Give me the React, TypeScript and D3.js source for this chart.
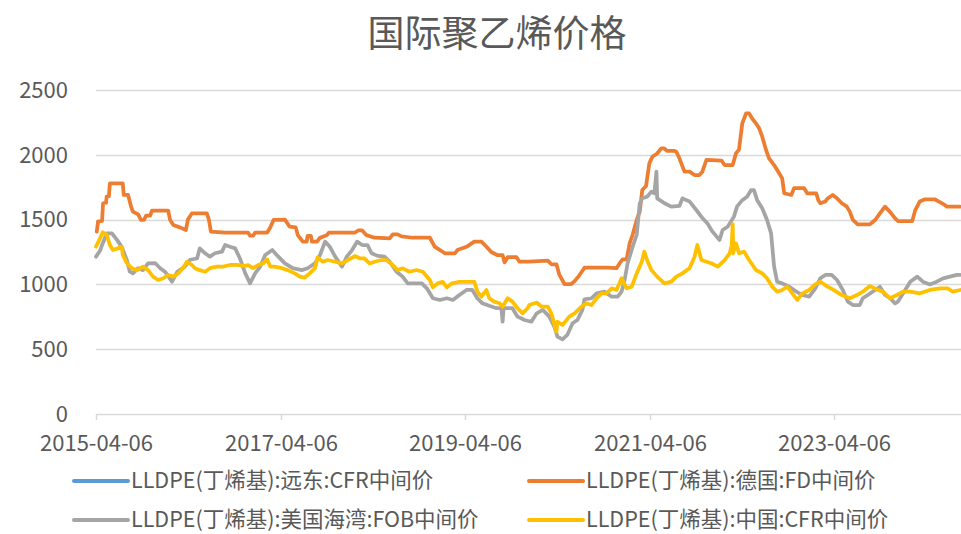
import { useRef, useEffect } from "react";
import * as d3 from "d3";

const title = "国际聚乙烯价格";
const yTicks = [0, 500, 1000, 1500, 2000, 2500];
const xTickLabels = ["2015-04-06", "2017-04-06", "2019-04-06", "2021-04-06", "2023-04-06"];
const startDate = "2015-04-06";
const endDate = "2024-08-21";

const seriesNames = [
  "LLDPE(丁烯基):远东:CFR中间价",
  "LLDPE(丁烯基):德国:FD中间价",
  "LLDPE(丁烯基):美国海湾:FOB中间价",
  "LLDPE(丁烯基):中国:CFR中间价",
];
const seriesColors = ["#5B9BD5", "#ED7D31", "#A5A5A5", "#FFC000"];

// 远东 CFR: no visible line in the picture
const farEast: [string, number][] = [];

const germany: [string, number][] = [
  ["2015-04-09", 1407], ["2015-04-14", 1484], ["2015-04-30", 1490], ["2015-05-04", 1626],
  ["2015-05-16", 1630], ["2015-05-18", 1677], ["2015-05-27", 1680], ["2015-05-31", 1780],
  ["2015-07-21", 1780], ["2015-07-25", 1690], ["2015-08-11", 1690], ["2015-08-23", 1600],
  ["2015-08-30", 1561], ["2015-09-20", 1540], ["2015-10-01", 1497], ["2015-10-13", 1497],
  ["2015-10-21", 1530], ["2015-11-06", 1530], ["2015-11-14", 1570], ["2016-01-17", 1570],
  ["2016-01-24", 1500], ["2016-02-06", 1458], ["2016-03-03", 1440], ["2016-03-27", 1420],
  ["2016-04-04", 1500], ["2016-04-20", 1549], ["2016-06-18", 1549], ["2016-06-26", 1500],
  ["2016-07-04", 1407], ["2016-08-29", 1400], ["2016-10-27", 1400], ["2016-11-28", 1400],
  ["2016-12-06", 1376], ["2016-12-18", 1376], ["2016-12-26", 1400], ["2017-02-12", 1400],
  ["2017-02-24", 1440], ["2017-03-09", 1497], ["2017-04-23", 1500], ["2017-05-12", 1445],
  ["2017-06-05", 1440], ["2017-06-13", 1380], ["2017-07-03", 1330], ["2017-07-18", 1330],
  ["2017-07-22", 1375], ["2017-08-04", 1375], ["2017-08-08", 1330], ["2017-08-28", 1330],
  ["2017-09-09", 1360], ["2017-10-06", 1380], ["2017-10-14", 1400], ["2018-01-26", 1400],
  ["2018-02-07", 1416], ["2018-02-23", 1416], ["2018-03-12", 1380], ["2018-04-13", 1360],
  ["2018-06-12", 1355], ["2018-06-24", 1386], ["2018-07-13", 1386], ["2018-07-29", 1370],
  ["2018-09-11", 1360], ["2018-11-18", 1360], ["2018-12-07", 1291], ["2019-01-16", 1240],
  ["2019-02-25", 1240], ["2019-03-07", 1265], ["2019-04-12", 1290], ["2019-05-13", 1330],
  ["2019-06-10", 1330], ["2019-06-30", 1290], ["2019-07-19", 1250], ["2019-08-13", 1225],
  ["2019-09-02", 1225], ["2019-09-10", 1170], ["2019-09-22", 1210], ["2019-10-27", 1210],
  ["2019-11-08", 1175], ["2019-12-17", 1175], ["2020-02-28", 1183], ["2020-03-13", 1155],
  ["2020-04-02", 1155], ["2020-04-14", 1073], ["2020-05-04", 1003], ["2020-05-31", 1003],
  ["2020-06-13", 1025], ["2020-07-02", 1070], ["2020-07-22", 1129], ["2020-10-21", 1129],
  ["2020-11-26", 1125], ["2020-12-08", 1162], ["2020-12-20", 1193], ["2021-01-05", 1193],
  ["2021-01-17", 1317], ["2021-01-29", 1385], ["2021-02-14", 1497], ["2021-02-26", 1563],
  ["2021-03-08", 1728], ["2021-03-23", 1760], ["2021-04-05", 1934], ["2021-04-17", 1985],
  ["2021-05-06", 2010], ["2021-05-22", 2050], ["2021-06-02", 2050], ["2021-06-15", 2030],
  ["2021-07-13", 2030], ["2021-07-21", 2024], ["2021-08-02", 1973], ["2021-08-22", 1870],
  ["2021-09-11", 1870], ["2021-10-01", 1844], ["2021-10-20", 1844], ["2021-11-01", 1870],
  ["2021-11-17", 1960], ["2022-01-16", 1955], ["2022-01-28", 1921], ["2022-03-01", 1921],
  ["2022-03-14", 2011], ["2022-03-26", 2040], ["2022-04-08", 2243], ["2022-04-23", 2320],
  ["2022-05-05", 2320], ["2022-05-17", 2280], ["2022-06-01", 2243], ["2022-06-14", 2204],
  ["2022-06-26", 2140], ["2022-07-11", 2037], ["2022-07-23", 1973], ["2022-08-12", 1921],
  ["2022-09-01", 1857], ["2022-09-13", 1818], ["2022-09-21", 1703], ["2022-10-19", 1690],
  ["2022-10-30", 1742], ["2022-12-09", 1742], ["2022-12-21", 1703], ["2023-01-26", 1703],
  ["2023-02-03", 1650], ["2023-02-11", 1626], ["2023-03-03", 1640], ["2023-03-13", 1665],
  ["2023-04-01", 1690], ["2023-04-18", 1665], ["2023-05-07", 1626], ["2023-05-27", 1600],
  ["2023-06-08", 1560], ["2023-06-20", 1497], ["2023-07-09", 1463], ["2023-08-26", 1463],
  ["2023-09-16", 1497], ["2023-10-05", 1548], ["2023-10-25", 1600], ["2023-11-14", 1560],
  ["2023-12-04", 1510], ["2023-12-15", 1489], ["2024-02-10", 1489], ["2024-02-22", 1574],
  ["2024-03-11", 1640], ["2024-03-31", 1657], ["2024-05-09", 1657], ["2024-06-07", 1626],
  ["2024-06-27", 1600], ["2024-08-17", 1600],
];

const usGulf: [string, number][] = [
  ["2015-04-06", 1214], ["2015-04-22", 1260], ["2015-04-30", 1304], ["2015-05-19", 1394],
  ["2015-06-08", 1394], ["2015-06-28", 1343], ["2015-07-17", 1290], ["2015-08-06", 1188],
  ["2015-08-18", 1098], ["2015-08-30", 1085], ["2015-09-20", 1125], ["2015-10-09", 1110],
  ["2015-10-29", 1162], ["2015-11-26", 1165], ["2015-12-16", 1125], ["2016-01-04", 1098],
  ["2016-02-01", 1021], ["2016-02-22", 1098], ["2016-03-23", 1137], ["2016-04-12", 1190],
  ["2016-05-10", 1200], ["2016-05-21", 1278], ["2016-06-11", 1240], ["2016-06-30", 1214],
  ["2016-07-20", 1240], ["2016-08-17", 1253], ["2016-08-29", 1304], ["2016-09-18", 1290],
  ["2016-10-08", 1278], ["2016-10-27", 1200], ["2016-11-17", 1085], ["2016-12-06", 1008],
  ["2016-12-26", 1085], ["2017-01-15", 1137], ["2017-02-04", 1227], ["2017-03-04", 1265],
  ["2017-03-25", 1220], ["2017-04-23", 1162], ["2017-05-24", 1125], ["2017-06-29", 1110],
  ["2017-07-22", 1125], ["2017-08-20", 1162], ["2017-09-09", 1227], ["2017-09-29", 1330],
  ["2017-10-18", 1290], ["2017-11-08", 1214], ["2017-12-05", 1137], ["2017-12-24", 1214],
  ["2018-01-14", 1265], ["2018-02-03", 1330], ["2018-02-23", 1304], ["2018-03-16", 1304],
  ["2018-04-01", 1240], ["2018-04-25", 1220], ["2018-05-22", 1214], ["2018-06-12", 1175],
  ["2018-07-09", 1098], ["2018-08-02", 1060], ["2018-08-22", 1008], ["2018-10-17", 1008],
  ["2018-11-06", 970], ["2018-11-30", 893], ["2018-12-27", 880], ["2019-01-24", 893],
  ["2019-02-17", 880], ["2019-03-15", 918], ["2019-04-12", 957], ["2019-05-05", 957],
  ["2019-05-25", 893], ["2019-06-14", 854], ["2019-07-11", 835], ["2019-08-09", 816],
  ["2019-08-28", 816], ["2019-09-02", 712], ["2019-09-06", 816], ["2019-10-11", 816],
  ["2019-10-31", 751], ["2019-11-28", 725], ["2019-12-25", 712], ["2020-01-15", 777],
  ["2020-02-08", 803], ["2020-03-05", 751], ["2020-03-25", 674], ["2020-04-06", 597],
  ["2020-04-26", 576], ["2020-05-15", 610], ["2020-06-05", 700], ["2020-06-24", 725],
  ["2020-07-14", 803], ["2020-07-22", 885], ["2020-08-19", 893], ["2020-09-08", 931],
  ["2020-10-09", 944], ["2020-11-07", 905], ["2020-12-01", 905], ["2020-12-16", 944],
  ["2020-12-28", 1034], ["2021-01-09", 1163], ["2021-01-29", 1291], ["2021-02-14", 1383],
  ["2021-02-26", 1626], ["2021-03-08", 1664], ["2021-03-27", 1677], ["2021-04-13", 1715],
  ["2021-04-25", 1703], ["2021-05-03", 1870], ["2021-05-06", 1664], ["2021-06-04", 1626],
  ["2021-07-01", 1600], ["2021-08-02", 1605], ["2021-08-14", 1664], ["2021-09-11", 1640],
  ["2021-10-08", 1574], ["2021-11-02", 1510], ["2021-11-21", 1471], ["2021-12-11", 1407],
  ["2022-01-08", 1343], ["2022-01-20", 1420], ["2022-02-09", 1445], ["2022-03-06", 1523],
  ["2022-03-18", 1600], ["2022-04-08", 1650], ["2022-04-27", 1677], ["2022-05-13", 1728],
  ["2022-05-24", 1728], ["2022-06-06", 1650], ["2022-06-26", 1587], ["2022-07-15", 1497],
  ["2022-07-31", 1394], ["2022-08-12", 1137], ["2022-08-24", 1021], ["2022-09-13", 1008],
  ["2022-10-11", 982], ["2022-11-08", 944], ["2022-12-02", 918], ["2022-12-29", 905],
  ["2023-01-22", 970], ["2023-02-11", 1047], ["2023-03-03", 1073], ["2023-03-28", 1073],
  ["2023-04-18", 1034], ["2023-05-11", 957], ["2023-05-31", 867], ["2023-06-20", 841],
  ["2023-07-17", 841], ["2023-07-29", 893], ["2023-08-18", 918], ["2023-09-16", 957],
  ["2023-10-05", 982], ["2023-10-25", 918], ["2023-11-14", 893], ["2023-12-04", 854],
  ["2023-12-15", 867], ["2024-01-05", 931], ["2024-02-02", 1021], ["2024-03-01", 1060],
  ["2024-03-23", 1021], ["2024-04-20", 1000], ["2024-05-17", 1021], ["2024-06-11", 1047],
  ["2024-07-08", 1060], ["2024-08-05", 1073], ["2024-08-17", 1073],
];

const china: [string, number][] = [
  ["2015-04-06", 1291], ["2015-04-22", 1355], ["2015-05-03", 1402], ["2015-05-19", 1380],
  ["2015-05-31", 1304], ["2015-06-12", 1265], ["2015-07-01", 1278], ["2015-07-17", 1290],
  ["2015-07-21", 1227], ["2015-08-06", 1163], ["2015-08-26", 1125], ["2015-09-16", 1110],
  ["2015-10-09", 1137], ["2015-10-29", 1110], ["2015-11-18", 1060], ["2015-12-08", 1034],
  ["2015-12-28", 1047], ["2016-01-17", 1073], ["2016-02-06", 1060], ["2016-02-26", 1085],
  ["2016-03-15", 1125], ["2016-03-31", 1175], ["2016-04-20", 1150], ["2016-05-02", 1125],
  ["2016-05-21", 1110], ["2016-06-11", 1098], ["2016-06-30", 1125], ["2016-07-28", 1137],
  ["2016-08-21", 1137], ["2016-09-18", 1150], ["2016-10-16", 1150], ["2016-11-17", 1142],
  ["2016-11-28", 1150], ["2016-12-18", 1125], ["2017-01-07", 1150], ["2017-01-27", 1162],
  ["2017-02-12", 1193], ["2017-02-24", 1137], ["2017-03-13", 1137], ["2017-04-11", 1125],
  ["2017-05-04", 1110], ["2017-06-01", 1085], ["2017-06-21", 1060], ["2017-07-11", 1053],
  ["2017-07-30", 1085], ["2017-08-20", 1125], ["2017-08-31", 1209], ["2017-09-19", 1175],
  ["2017-10-10", 1188], ["2017-11-08", 1175], ["2017-12-05", 1162], ["2017-12-28", 1188],
  ["2018-01-26", 1219], ["2018-02-15", 1200], ["2018-03-04", 1200], ["2018-03-24", 1162],
  ["2018-04-13", 1175], ["2018-05-10", 1188], ["2018-05-30", 1188], ["2018-06-24", 1150],
  ["2018-07-13", 1111], ["2018-08-02", 1124], ["2018-08-29", 1098], ["2018-09-26", 1111],
  ["2018-10-21", 1098], ["2018-11-18", 1034], ["2018-11-30", 977], ["2018-12-19", 1008],
  ["2019-01-08", 1020], ["2019-01-24", 977], ["2019-02-13", 1008], ["2019-03-15", 1020],
  ["2019-05-13", 1020], ["2019-05-25", 944], ["2019-06-10", 905], ["2019-06-30", 957],
  ["2019-07-11", 893], ["2019-07-31", 867], ["2019-08-21", 854], ["2019-09-02", 828],
  ["2019-09-22", 893], ["2019-10-11", 867], ["2019-10-31", 816], ["2019-11-20", 777],
  ["2019-12-10", 816], ["2019-12-17", 841], ["2020-01-15", 860], ["2020-02-04", 828],
  ["2020-02-28", 828], ["2020-03-13", 777], ["2020-04-02", 635], ["2020-04-06", 712],
  ["2020-04-26", 687], ["2020-05-23", 751], ["2020-06-13", 777], ["2020-07-10", 828],
  ["2020-07-30", 854], ["2020-08-19", 841], ["2020-09-08", 893], ["2020-09-28", 931],
  ["2020-10-17", 931], ["2020-11-07", 970], ["2020-11-26", 957], ["2020-12-16", 1047],
  ["2021-01-05", 970], ["2021-01-25", 982], ["2021-02-14", 1085], ["2021-03-06", 1175],
  ["2021-03-16", 1253], ["2021-03-27", 1188], ["2021-04-13", 1111], ["2021-05-06", 1060],
  ["2021-06-04", 1008], ["2021-07-01", 1021], ["2021-07-21", 1060], ["2021-08-14", 1085],
  ["2021-09-11", 1124], ["2021-10-01", 1214], ["2021-10-12", 1304], ["2021-10-28", 1188],
  ["2021-11-17", 1175], ["2021-12-06", 1163], ["2022-01-01", 1137], ["2022-01-28", 1188],
  ["2022-02-17", 1240], ["2022-02-25", 1300], ["2022-03-01", 1465], ["2022-03-03", 1240],
  ["2022-03-14", 1317], ["2022-03-26", 1240], ["2022-04-15", 1253], ["2022-05-05", 1188],
  ["2022-06-01", 1111], ["2022-06-26", 1085], ["2022-07-15", 1047], ["2022-08-05", 982],
  ["2022-08-24", 944], ["2022-09-13", 957], ["2022-10-03", 982], ["2022-10-23", 931],
  ["2022-11-12", 880], ["2022-12-02", 931], ["2022-12-29", 957], ["2023-01-22", 1000],
  ["2023-02-11", 1021], ["2023-03-08", 987], ["2023-04-01", 961], ["2023-05-07", 918],
  ["2023-06-08", 893], ["2023-07-06", 918], ["2023-07-29", 944], ["2023-08-26", 987],
  ["2023-09-24", 961], ["2023-10-17", 944], ["2023-11-14", 893], ["2023-12-11", 918],
  ["2024-01-05", 944], ["2024-02-02", 944], ["2024-03-11", 931], ["2024-04-20", 957],
  ["2024-05-29", 970], ["2024-06-29", 970], ["2024-07-19", 944], ["2024-08-17", 957],
];

const allSeries = [farEast, germany, usGulf, china];

export default function App() {
  const svgRef = useRef<SVGSVGElement>(null);

  useEffect(() => {
    const svg = d3.select(svgRef.current);
    svg.selectAll("*").remove();

    const width = 961;
    const height = 534;
    const margin = { top: 90, right: 0, bottom: 120, left: 96 };
    const font = "'Noto Sans CJK SC', 'Liberation Sans', sans-serif";
    const textColor = "#595959";

    svg.attr("width", width).attr("height", height).style("font-family", font);

    const parse = d3.timeParse("%Y-%m-%d");
    const x = d3
      .scaleTime()
      .domain([parse(startDate)!, parse(endDate)!])
      .range([margin.left, width - margin.right]);
    const y = d3
      .scaleLinear()
      .domain([0, 2500])
      .range([height - margin.bottom, margin.top]);

    // Title
    svg
      .append("text")
      .attr("x", 497)
      .attr("y", 47)
      .attr("text-anchor", "middle")
      .attr("font-size", "37px")
      .attr("fill", textColor)
      .text(title);

    // Gridlines
    svg
      .append("g")
      .selectAll("line")
      .data(yTicks)
      .join("line")
      .attr("x1", margin.left)
      .attr("x2", width)
      .attr("y1", (d) => Math.round(y(d)) + 0.5)
      .attr("y2", (d) => Math.round(y(d)) + 0.5)
      .attr("stroke", "#d9d9d9")
      .attr("stroke-width", 1.5);

    // Y labels
    svg
      .append("g")
      .selectAll("text")
      .data(yTicks)
      .join("text")
      .attr("x", 68)
      .attr("y", (d) => y(d))
      .attr("dy", "0.35em")
      .attr("text-anchor", "end")
      .attr("font-size", "22px")
      .attr("fill", textColor)
      .text((d) => d);

    // X ticks + labels
    const xg = svg.append("g");
    xTickLabels.forEach((lbl) => {
      const px = Math.round(x(parse(lbl)!)) + 0.5;
      xg.append("line")
        .attr("x1", px)
        .attr("x2", px)
        .attr("y1", y(0))
        .attr("y2", y(0) + 6)
        .attr("stroke", "#d9d9d9")
        .attr("stroke-width", 1.5);
      xg.append("text")
        .attr("x", px)
        .attr("y", 443)
        .attr("dy", "0.35em")
        .attr("text-anchor", "middle")
        .attr("font-size", "22px")
        .attr("fill", textColor)
        .text(lbl);
    });

    // Lines
    const line = d3
      .line<[string, number]>()
      .x((d) => x(parse(d[0])!))
      .y((d) => y(d[1]));

    allSeries.forEach((data, i) => {
      if (!data.length) return;
      svg
        .append("path")
        .datum(data)
        .attr("fill", "none")
        .attr("stroke", seriesColors[i])
        .attr("stroke-width", 3.75)
        .attr("stroke-linejoin", "round")
        .attr("stroke-linecap", "round")
        .attr("d", line);
    });

    // Legend
    const legendPos = [
      [74, 481],
      [529, 481],
      [74, 520],
      [529, 520],
    ];
    seriesNames.forEach((name, i) => {
      const [lx, ly] = legendPos[i];
      svg
        .append("line")
        .attr("x1", lx)
        .attr("x2", lx + 54)
        .attr("y1", ly)
        .attr("y2", ly)
        .attr("stroke", seriesColors[i])
        .attr("stroke-width", 4)
        .attr("stroke-linecap", "round");
      svg
        .append("text")
        .attr("x", lx + 57)
        .attr("y", ly)
        .attr("dy", "0.33em")
        .attr("font-size", "21.5px")
        .attr("fill", textColor)
        .text(name);
    });
  }, []);

  return <svg ref={svgRef} style={{ position: "absolute", left: 0, top: 0 }} />;
}
